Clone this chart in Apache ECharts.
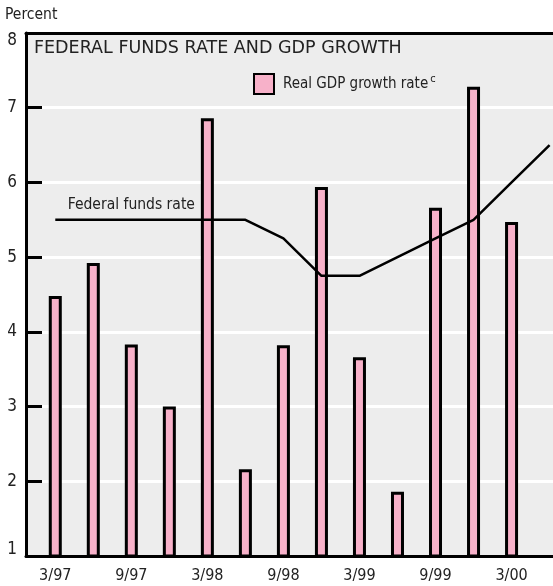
<!DOCTYPE html>
<html>
<head>
<meta charset="utf-8">
<script src="https://cdn.jsdelivr.net/npm/echarts@6/dist/echarts.min.js"></script>
<style>
  html, body { margin: 0; padding: 0; background: #fff; }
  #chart { width: 553px; height: 586px; }
</style>
</head>
<body>
<div id="chart"></div>
<script>
// quarters 3/97 .. 6/00, x index 0..13
var quarters = ['3/97', '6/97', '9/97', '12/97', '3/98', '6/98', '9/98', '12/98', '3/99', '6/99', '9/99', '12/99', '3/00', '6/00']
var tickQuarters = ['3/97', '9/97', '3/98', '9/98', '3/99', '9/99', '3/00']
var gdpGrowth = [4.48, 4.92, 3.83, 3.0, 6.86, 2.16, 3.82, 5.94, 3.66, 1.86, 5.66, 7.28, 5.47]
var fedFunds = [5.5, 5.5, 5.5, 5.5, 5.5, 5.5, 5.25, 4.75, 4.75, 5.0, 5.25, 5.5, 6.0, 6.5]
var yTicks = [1, 2, 3, 4, 5, 6, 7, 8]

var font = '"DejaVu Sans Condensed", "Liberation Sans Narrow", "Roboto", sans-serif'
var titleFont = '"DejaVu Sans", "Liberation Sans", sans-serif'

var barData = gdpGrowth.map(function (v, i) { return [i, v] })
var lineData = fedFunds.map(function (v, i) {
  var item = { value: [i, v] }
  // text label over the flat part of the line
  if (i === 2) {
    item.label = {
      show: true,
      position: 'top',
      distance: 7,
      formatter: 'Federal funds rate',
      color: '#222',
      fontFamily: font,
      fontSize: 15.5
    }
  }
  return item
})
var labelIdx = tickQuarters.map(function (q) { return quarters.indexOf(q) })

var chart = echarts.init(document.getElementById('chart'))
chart.setOption({
  animation: false,
  title: [
    { text: 'Percent', left: 5, top: 7, padding: 0,
      textStyle: { fontFamily: font, fontSize: 15.5, fontWeight: 'normal', color: '#222' } },
    { text: 'FEDERAL FUNDS RATE AND GDP GROWTH', left: 34, top: 39, padding: 0,
      textStyle: { fontFamily: titleFont, fontSize: 17.5, fontWeight: 'normal', color: '#222' } }
  ],
  legend: {
    data: ['gdp'],
    left: 253,
    top: 73,
    padding: 0,
    itemWidth: 20,
    itemHeight: 20,
    icon: 'rect',
    formatter: function () { return 'Real GDP growth rate{sup|c}' },
    textStyle: {
      fontFamily: font, fontSize: 15, color: '#222', padding: [0, 0, 0, 4],
      rich: { sup: { fontFamily: font, fontSize: 11, color: '#222', verticalAlign: 'top', padding: [0, 0, 10, 2] } }
    }
  },
  grid: {
    left: 26,
    right: -3,
    top: 33,
    bottom: 30,
    show: true,
    borderWidth: 0,
    backgroundColor: '#ededed'
  },
  xAxis: [
    {
      type: 'value',
      min: -0.77,
      max: 13.09,
      z: 5,
      axisLine: { show: true, onZero: false, lineStyle: { color: '#000', width: 3 } },
      axisTick: { show: false },
      splitLine: { show: false },
      axisLabel: {
        customValues: labelIdx,
        margin: 12,
        fontFamily: font,
        fontSize: 16,
        color: '#222',
        formatter: function (v) { return quarters[Math.round(v)] }
      }
    },
    {
      type: 'value',
      position: 'top',
      min: -0.77,
      max: 13.09,
      z: 5,
      axisLine: { show: true, onZero: false, lineStyle: { color: '#000', width: 3 } },
      axisTick: { show: false },
      axisLabel: { show: false },
      splitLine: { show: false }
    }
  ],
  yAxis: [
    {
      type: 'value',
      min: 1,
      max: 8,
      interval: 1,
      z: 0,
      axisLine: { show: false, onZero: false },
      axisTick: { show: false },
      axisLabel: { show: false },
      splitLine: { show: true, showMinLine: false, showMaxLine: false, lineStyle: { color: '#fff', width: 3 } }
    },
    {
      type: 'value',
      position: 'left',
      offset: 0,
      min: 1,
      max: 8,
      interval: 1,
      z: 5,
      axisLine: { show: true, onZero: false, lineStyle: { color: '#000', width: 3 } },
      axisTick: { show: true, inside: true, length: 16, lineStyle: { color: '#000', width: 3 } },
      splitLine: { show: false },
      axisLabel: {
        margin: 9,
        fontFamily: font,
        fontSize: 17,
        color: '#222',
        formatter: function (v) {
          if (v === yTicks[yTicks.length - 1]) return '{top|' + v + '}'
          if (v === yTicks[0]) return '{bot|' + v + '}'
          return v
        },
        rich: {
          top: { fontFamily: font, fontSize: 17, color: '#222', padding: [16, 0, 0, 0] },
          bot: { fontFamily: font, fontSize: 17, color: '#222', padding: [0, 0, 12, 0] }
        }
      }
    }
  ],
  series: [
    {
      name: 'gdp',
      type: 'bar',
      yAxisIndex: 1,
      barWidth: 13,
      data: barData,
      itemStyle: { color: '#f7b1c9', borderColor: '#000', borderWidth: 3 }
    },
    {
      name: 'fed',
      type: 'line',
      yAxisIndex: 1,
      symbol: 'circle',
      symbolSize: 0.01,
      showSymbol: true,
      data: lineData,
      itemStyle: { color: '#000' },
      lineStyle: { color: '#000', width: 2.5 },
      labelLayout: { hideOverlap: false }
    }
  ]
})
</script>
</body>
</html>
